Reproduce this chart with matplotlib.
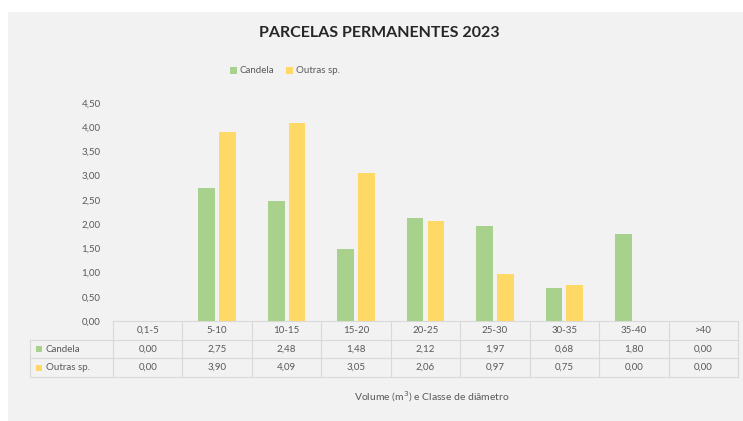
import matplotlib.pyplot as plt
from matplotlib.patches import Rectangle
import numpy as np

plt.rcParams['font.family'] = ['Lato', 'DejaVu Sans']

categories = ["0,1-5", "5-10", "10-15", "15-20", "20-25", "25-30", "30-35", "35-40", ">40"]
candela = [0.00, 2.75, 2.48, 1.48, 2.12, 1.97, 0.68, 1.80, 0.00]
outras = [0.00, 3.90, 4.09, 3.05, 2.06, 0.97, 0.75, 0.00, 0.00]
series_names = ["Candela", "Outras sp."]

GREEN = "#a9d18e"
YELLOW = "#ffd966"
BG = "#f2f2f2"
GRID = "#d9d9d9"
TXT = "#595959"

W, H = 743, 421
fig = plt.figure(figsize=(W / 100, H / 100), dpi=100)
fig.patch.set_facecolor("white")


def fy(py):
    return 1 - py / H


def fx(px):
    return px / W


# gray chart area, kept behind everything else
fig.add_artist(Rectangle((fx(8), 0), 1 - fx(8), fy(12), transform=fig.transFigure,
                         facecolor=BG, edgecolor="none", zorder=-10))

x0, x1 = 113, 738
y_zero, y_top = 321, 103
ax = fig.add_axes([fx(x0), fy(y_zero), fx(x1) - fx(x0), (y_zero - y_top) / H])
ax.set_facecolor("none")
ax.set_ylim(0, 4.5)
ax.set_xlim(-0.5, len(categories) - 0.5)

x = np.arange(len(categories))
w = 0.24
ax.bar(x - 0.15, candela, w, color=GREEN, zorder=3)
ax.bar(x + 0.15, outras, w, color=YELLOW, zorder=3)

ax.set_yticks(np.arange(0, 4.51, 0.5))
ax.set_yticklabels([f"{v:.2f}".replace(".", ",") for v in np.arange(0, 4.51, 0.5)],
                   fontsize=7, color=TXT)
ax.tick_params(axis="y", length=0, pad=9)
ax.set_xticks([])
for s in ["top", "right", "left"]:
    ax.spines[s].set_visible(False)
ax.spines["bottom"].set_color(GRID)

# title and legend
fig.text(0.51, fy(33), "PARCELAS PERMANENTES 2023", ha="center", va="center",
         fontsize=11.5, fontweight="bold", color="#262626")
fig.add_artist(Rectangle((fx(230), fy(74)), 7 / W, 7 / H, transform=fig.transFigure,
                         facecolor=GREEN, edgecolor="none"))
fig.text(fx(240), fy(70.5), series_names[0], ha="left", va="center", fontsize=7, color=TXT)
fig.add_artist(Rectangle((fx(286), fy(74)), 7 / W, 7 / H, transform=fig.transFigure,
                         facecolor=YELLOW, edgecolor="none"))
fig.text(fx(296), fy(70.5), series_names[1], ha="left", va="center", fontsize=7, color=TXT)

# data table below the plot
rows_y = [321, 340, 358, 377]
col_w = (x1 - x0) / len(categories)
line_kw = dict(color=GRID, lw=0.8, transform=fig.transFigure)
for ry in rows_y[1:]:
    fig.add_artist(plt.Line2D([fx(30), fx(x1)], [fy(ry), fy(ry)], **line_kw))
fig.add_artist(plt.Line2D([fx(30), fx(30)], [fy(340), fy(377)], **line_kw))
for i in range(len(categories) + 1):
    vx = x0 + i * col_w
    fig.add_artist(plt.Line2D([fx(vx), fx(vx)], [fy(321), fy(377)], **line_kw))

for i, cat in enumerate(categories):
    cx = fx(x0 + (i + 0.5) * col_w)
    fig.text(cx, fy(330.5), cat, ha="center", va="center", fontsize=7, color=TXT)
    fig.text(cx, fy(349), f"{candela[i]:.2f}".replace(".", ","), ha="center", va="center",
             fontsize=7, color=TXT)
    fig.text(cx, fy(367.5), f"{outras[i]:.2f}".replace(".", ","), ha="center", va="center",
             fontsize=7, color=TXT)

for ry, name, col in [(349, series_names[0], GREEN), (367.5, series_names[1], YELLOW)]:
    fig.add_artist(Rectangle((fx(36), fy(ry + 3)), 6 / W, 6 / H, transform=fig.transFigure,
                             facecolor=col, edgecolor="none"))
    fig.text(fx(46), fy(ry), name, ha="left", va="center", fontsize=7, color=TXT)

fig.text(fx(432), fy(397), "Volume (m$^3$) e Classe de diâmetro", ha="center", va="center",
         fontsize=7.5, color=TXT)

fig.savefig("out.png", dpi=100, facecolor=fig.get_facecolor())
